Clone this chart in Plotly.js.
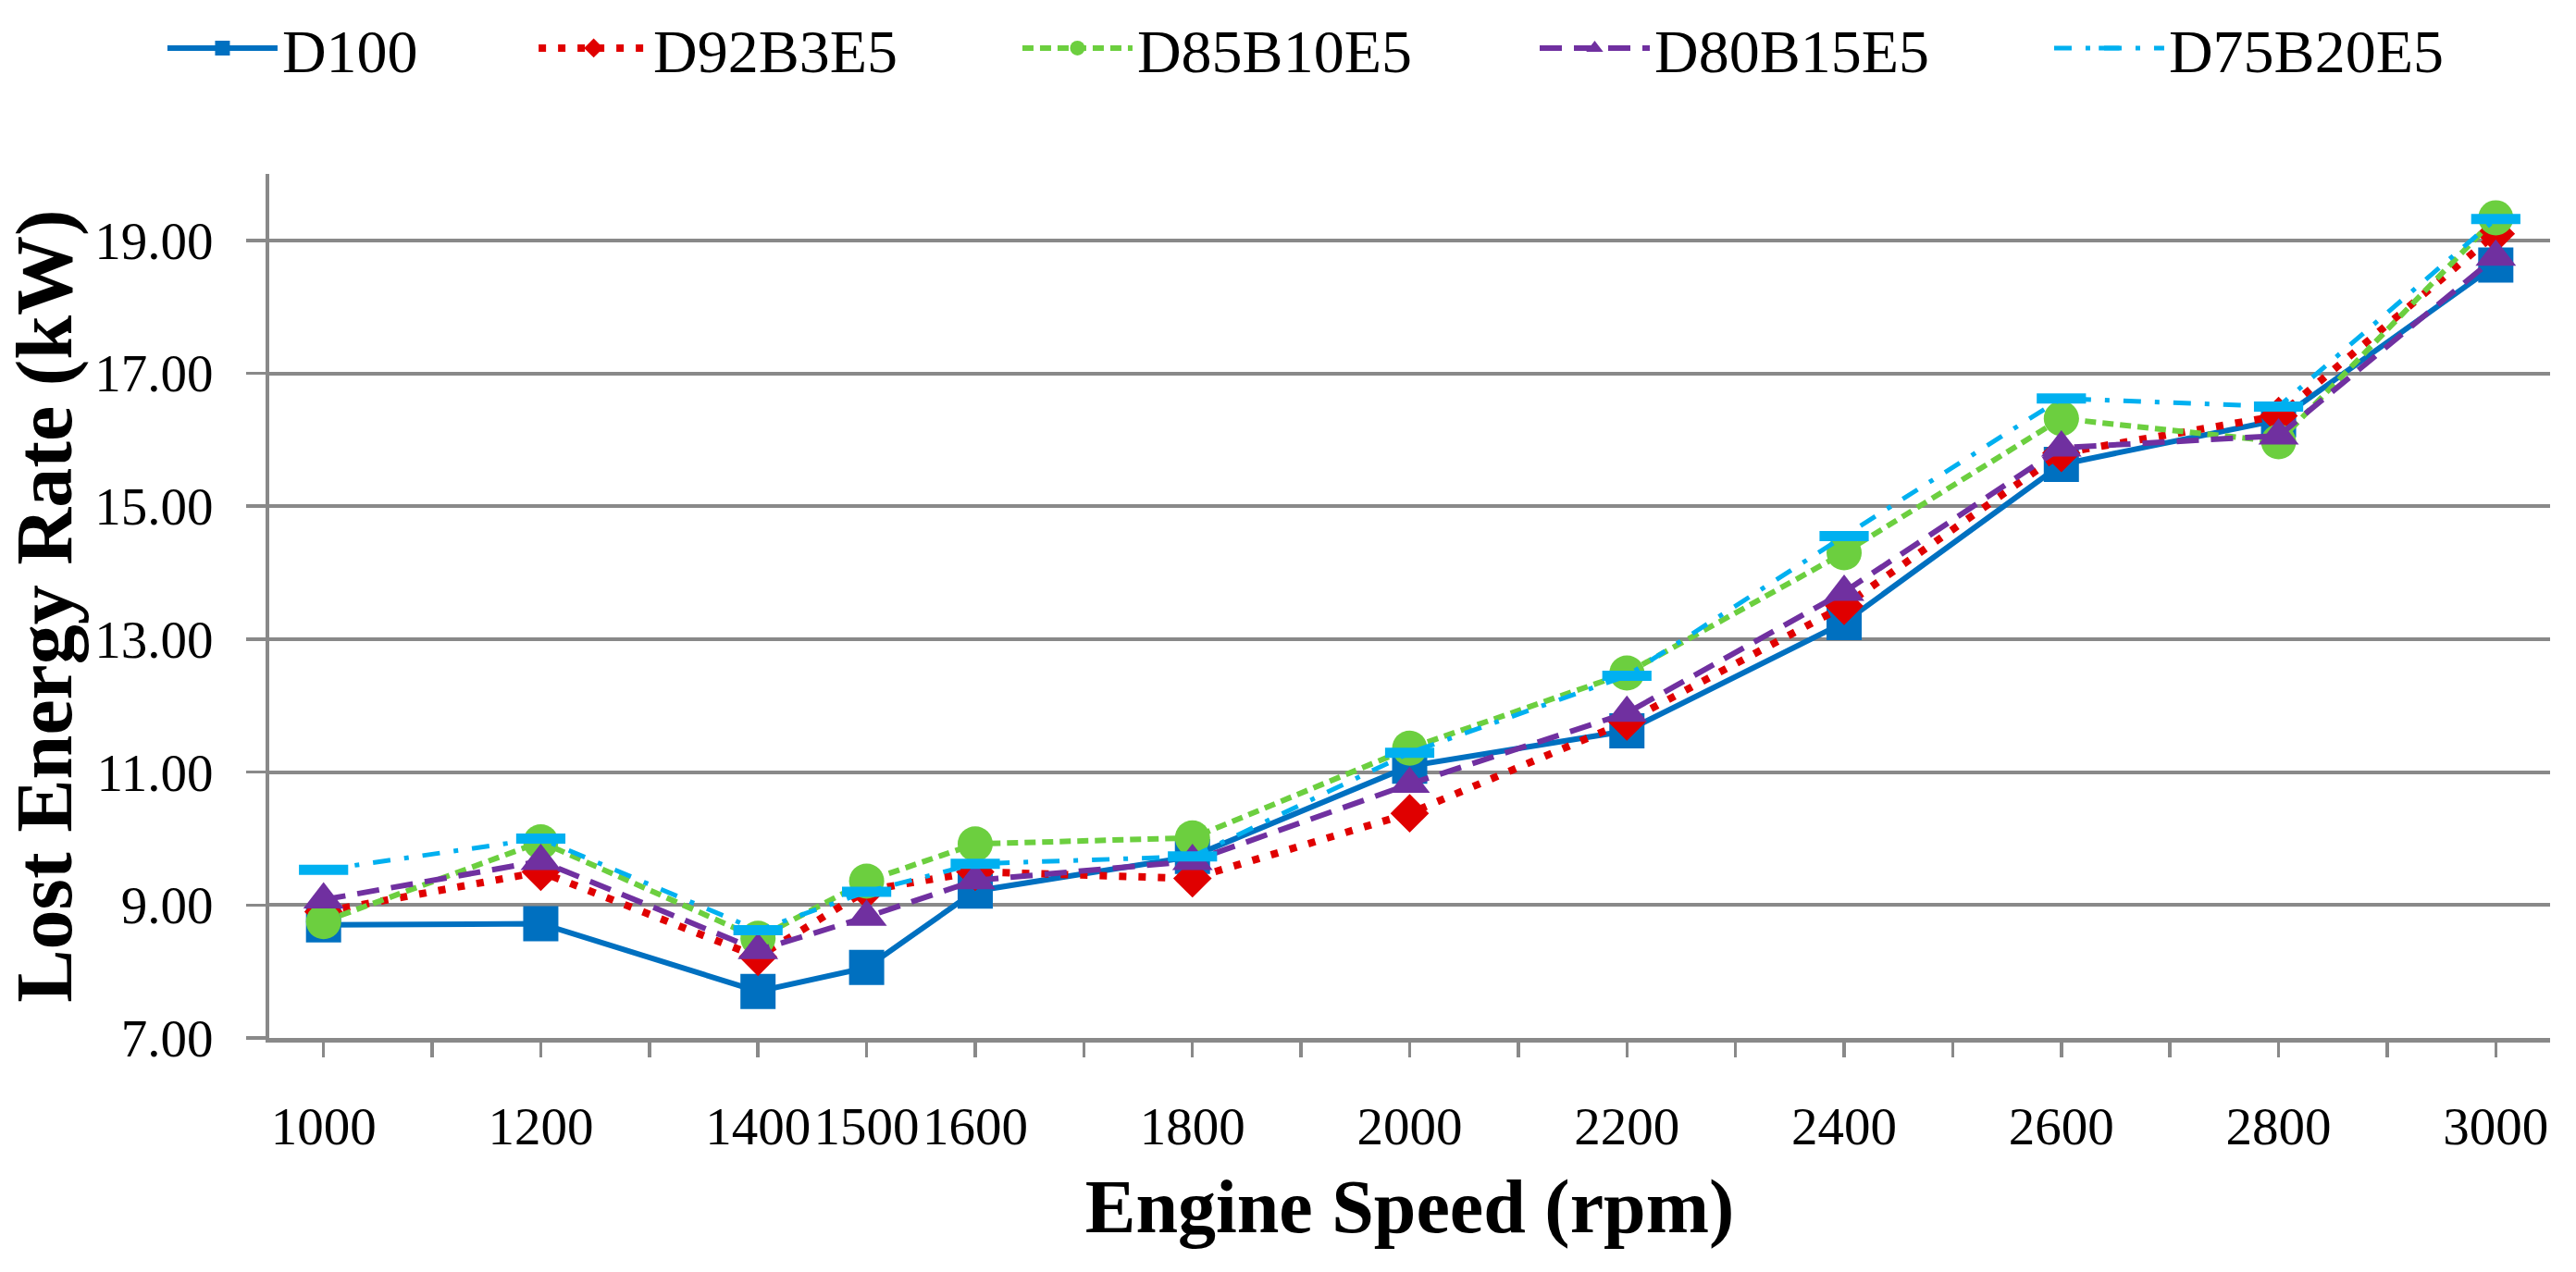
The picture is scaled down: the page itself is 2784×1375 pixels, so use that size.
<!DOCTYPE html>
<html>
<head>
<meta charset="utf-8">
<script src="https://cdn.plot.ly/plotly-3.0.1.min.js"></script>
<style>
  html, body { margin: 0; padding: 0; background: #ffffff; }
  #chart { width: 2784px; height: 1375px; }
</style>
</head>
<body>
<div id="chart"></div>
<script>
// ---- data ----
const speeds   = [1000, 1200, 1400, 1500, 1600, 1800, 2000, 2200, 2400, 2600, 2800, 3000];
const D100     = [8.70, 8.72, 7.70, 8.06, 9.21, 9.73, 11.09, 11.62, 13.25, 15.63, 16.30, 18.63];
const D92B3E5  = [8.90, 9.50, 8.22, 9.22, 9.50, 9.40, 10.38, 11.76, 13.50, 15.80, 16.36, 19.10];
const D85B10E5 = [8.75, 9.95, 8.50, 9.36, 9.92, 10.01, 11.36, 12.49, 14.30, 16.32, 15.97, 19.34];
const D80B15E5 = [9.08, 9.66, 8.32, 8.82, 9.37, 9.66, 10.82, 11.89, 13.71, 15.88, 16.06, 18.75];
const D75B20E5 = [9.53, 10.00, 8.62, 9.20, 9.62, 9.73, 11.29, 12.45, 14.55, 16.62, 16.50, 19.32];
const seriesNames = ['D100', 'D92B3E5', 'D85B10E5', 'D80B15E5', 'D75B20E5'];
const xTitle = 'Engine Speed (rpm)';
const yTitle = 'Lost Energy Rate (kW)';

// ---- axis ticks: a tick every 100 rpm, labels only at measured speeds ----
const xTickVals = [];
for (let v = speeds[0]; v <= speeds[speeds.length - 1]; v += 100) xTickVals.push(v);
const xTickText = xTickVals.map(v => speeds.includes(v) ? String(v) : '');

const FONT = 'Liberation Serif, Times New Roman, serif';
const GRAY = '#898989';

const styles = [
  { color: '#0070C0', dash: 'solid',              width: 6, symbol: 'square',       size: 38 },
  { color: '#E00000', dash: '8px,13px',           width: 8, symbol: 'diamond',      size: 32 },
  { color: '#6CCF3F', dash: '12px,7px',           width: 6, symbol: 'circle',       size: 38 },
  { color: '#7030A0', dash: '24px,13px',          width: 6, symbol: 'triangle-up',  size: 38 },
  { color: '#00B0F0', dash: '19px,15px,5px,15px', width: 5, symbol: 'line-ew',      size: 38 }
];
const allSeries = [D100, D92B3E5, D85B10E5, D80B15E5, D75B20E5];
const legendIds = ['legend', 'legend2', 'legend3', 'legend4', 'legend5'];
const legendX = [0.0632, 0.2073, 0.3951, 0.5959, 0.7956];

const traces = allSeries.map((vals, i) => {
  const s = styles[i];
  const marker = { symbol: s.symbol, size: s.size, color: s.color };
  if (s.symbol === 'line-ew') marker.line = { color: s.color, width: 11 };
  else marker.line = { color: s.color, width: 0 };
  return {
    type: 'scatter', mode: 'lines+markers',
    name: seriesNames[i], x: speeds, y: vals,
    line: { color: s.color, width: s.width, dash: s.dash },
    marker: marker,
    legend: legendIds[i],
    hoverinfo: 'x+y+name'
  };
});

const layout = {
  width: 2784, height: 1375,
  paper_bgcolor: '#ffffff', plot_bgcolor: '#ffffff',
  margin: { l: 291, r: 28, t: 188, b: 253, pad: 0 },
  font: { family: FONT, color: '#000000', size: 57 },
  showlegend: true,
  xaxis: {
    range: [950, 3050], tickmode: 'array', tickvals: xTickVals, ticktext: xTickText,
    tickangle: 0,
    ticks: 'outside', ticklen: 16, tickwidth: 3.5, tickcolor: GRAY,
    showline: true, linecolor: GRAY, linewidth: 5,
    showgrid: false, zeroline: false, automargin: false,
    tickfont: { family: FONT, size: 57, color: '#000000' },
    ticklabelstandoff: 26,
    title: { text: xTitle, font: { family: FONT, size: 82, color: '#000000', weight: 'bold' }, standoff: 28 }
  },
  xaxis2: {
    overlaying: 'x', anchor: 'y', side: 'bottom',
    range: [950, 3050], tickmode: 'array', tickvals: xTickVals, ticktext: xTickVals.map(() => ''),
    ticks: 'inside', ticklen: 16, tickwidth: 3.5, tickcolor: GRAY,
    showline: false, showgrid: false, zeroline: false, showticklabels: false, automargin: false
  },
  yaxis: {
    range: [7, 20], tick0: 7, dtick: 2, tickformat: '.2f',
    ticks: 'outside', ticklen: 21, tickwidth: 3.5, tickcolor: GRAY,
    showline: true, linecolor: GRAY, linewidth: 4,
    showgrid: true, gridcolor: GRAY, gridwidth: 4,
    zeroline: false, automargin: false,
    tickfont: { family: FONT, size: 57, color: '#000000' },
    ticklabelstandoff: 24,
    title: { text: yTitle, font: { family: FONT, size: 86, color: '#000000', weight: 'bold' }, standoff: 18 }
  }
};

legendIds.forEach((id, i) => {
  layout[id] = {
    orientation: 'h', xref: 'container', yref: 'container',
    x: legendX[i], xanchor: 'left', y: 1 - 52 / 1375, yanchor: 'middle',
    font: { family: FONT, size: 66, color: '#000000' },
    itemwidth: 119, bgcolor: 'rgba(0,0,0,0)', borderwidth: 0
  };
});

Plotly.newPlot('chart', traces, layout, { displayModeBar: false, staticPlot: true });
</script>
</body>
</html>
